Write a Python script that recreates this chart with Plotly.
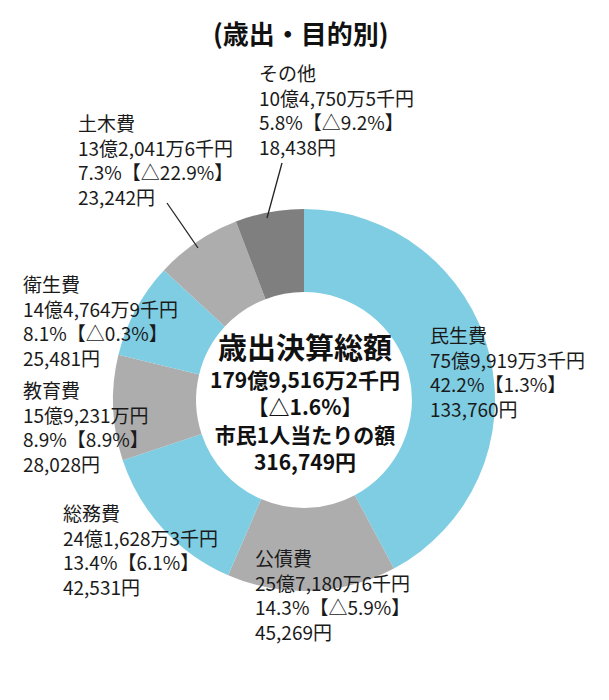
import plotly.graph_objects as go

# ---- data ----
categories = ["民生費", "公債費", "総務費", "教育費", "衛生費", "土木費", "その他"]
shares = [42.2, 14.3, 13.4, 8.9, 8.1, 7.3, 5.8]
amounts = ["75億9,919万3千円", "25億7,180万6千円", "24億1,628万3千円", "15億9,231万円",
           "14億4,764万9千円", "13億2,041万6千円", "10億4,750万5千円"]
changes = ["1.3%", "△5.9%", "6.1%", "8.9%", "△0.3%", "△22.9%", "△9.2%"]
per_capita = ["133,760円", "45,269円", "42,531円", "28,028円", "25,481円", "23,242円", "18,438円"]
colors = ["#7FCDE2", "#ADADAD", "#7FCDE2", "#ADADAD", "#7FCDE2", "#ADADAD", "#7F7F7F"]

title_text = "(歳出・目的別)"
center_title = "歳出決算総額"
center_lines = ["179億9,516万2千円", "【△1.6%】", "市民1人当たりの額", "316,749円"]

W, H = 609, 700
OFF = 8  # page body offset
FONT = "Noto Sans CJK JP"

def px(x):
    return (x - OFF) / W

def py(y):
    return 1 - (y - OFF) / H

fig = go.Figure()
cx, cy, R = 304, 400, 191
fig.add_trace(go.Pie(
    labels=categories,
    values=shares,
    marker=dict(colors=colors, line=dict(width=0)),
    hole=0.565,
    sort=False,
    direction="clockwise",
    rotation=0,
    textinfo="none",
    hoverinfo="label+percent",
    showlegend=False,
    domain=dict(x=[px(cx - R), px(cx + R)], y=[py(cy + R), py(cy - R)]),
))

# label block positions (left x, vertical centre) in pixels
label_pos = {
    "民生費": (428, 371),
    "公債費": (253, 594),
    "総務費": (61, 549),
    "教育費": (21, 426),
    "衛生費": (21, 320),
    "土木費": (76, 160),
    "その他": (257, 110),
}

annotations = []
for i, cat in enumerate(categories):
    x0, yc = label_pos[cat]
    txt = "<br>".join([cat, amounts[i], f"{shares[i]}%【{changes[i]}】", per_capita[i]])
    annotations.append(dict(
        text=txt, x=px(x0), y=py(yc), xref="paper", yref="paper",
        xanchor="left", yanchor="middle", align="left", showarrow=False,
        font=dict(family=FONT, size=19, color="#1a1a1a"),
    ))

annotations.append(dict(
    text=f"<b>{center_title}</b>", x=px(305), y=py(346), xref="paper", yref="paper",
    xanchor="center", yanchor="middle", showarrow=False,
    font=dict(family=FONT, size=29, color="#111111"),
))
annotations.append(dict(
    text="<br>".join(f"<b>{s}</b>" for s in center_lines), x=px(305), y=py(420),
    xref="paper", yref="paper", xanchor="center", yanchor="middle", align="center",
    showarrow=False, font=dict(family=FONT, size=21, color="#111111"),
))

annotations.append(dict(
    text=f"<b>{title_text}</b>", x=px(301), y=py(33), xref="paper", yref="paper",
    xanchor="center", yanchor="middle", showarrow=False,
    font=dict(family=FONT, size=26, color="#111111"),
))

shapes = [
    dict(type="line", xref="paper", yref="paper", x0=px(282), y0=py(163), x1=px(267), y1=py(218),
         line=dict(color="#222222", width=1.3)),
    dict(type="line", xref="paper", yref="paper", x0=px(167), y0=py(203), x1=px(198), y1=py(248),
         line=dict(color="#222222", width=1.3)),
]

fig.update_layout(
    width=W, height=H,
    margin=dict(l=0, r=0, t=0, b=0),
    paper_bgcolor="white", plot_bgcolor="white",
    annotations=annotations, shapes=shapes,
    font=dict(family=FONT),
)

fig.write_html("out.html")
